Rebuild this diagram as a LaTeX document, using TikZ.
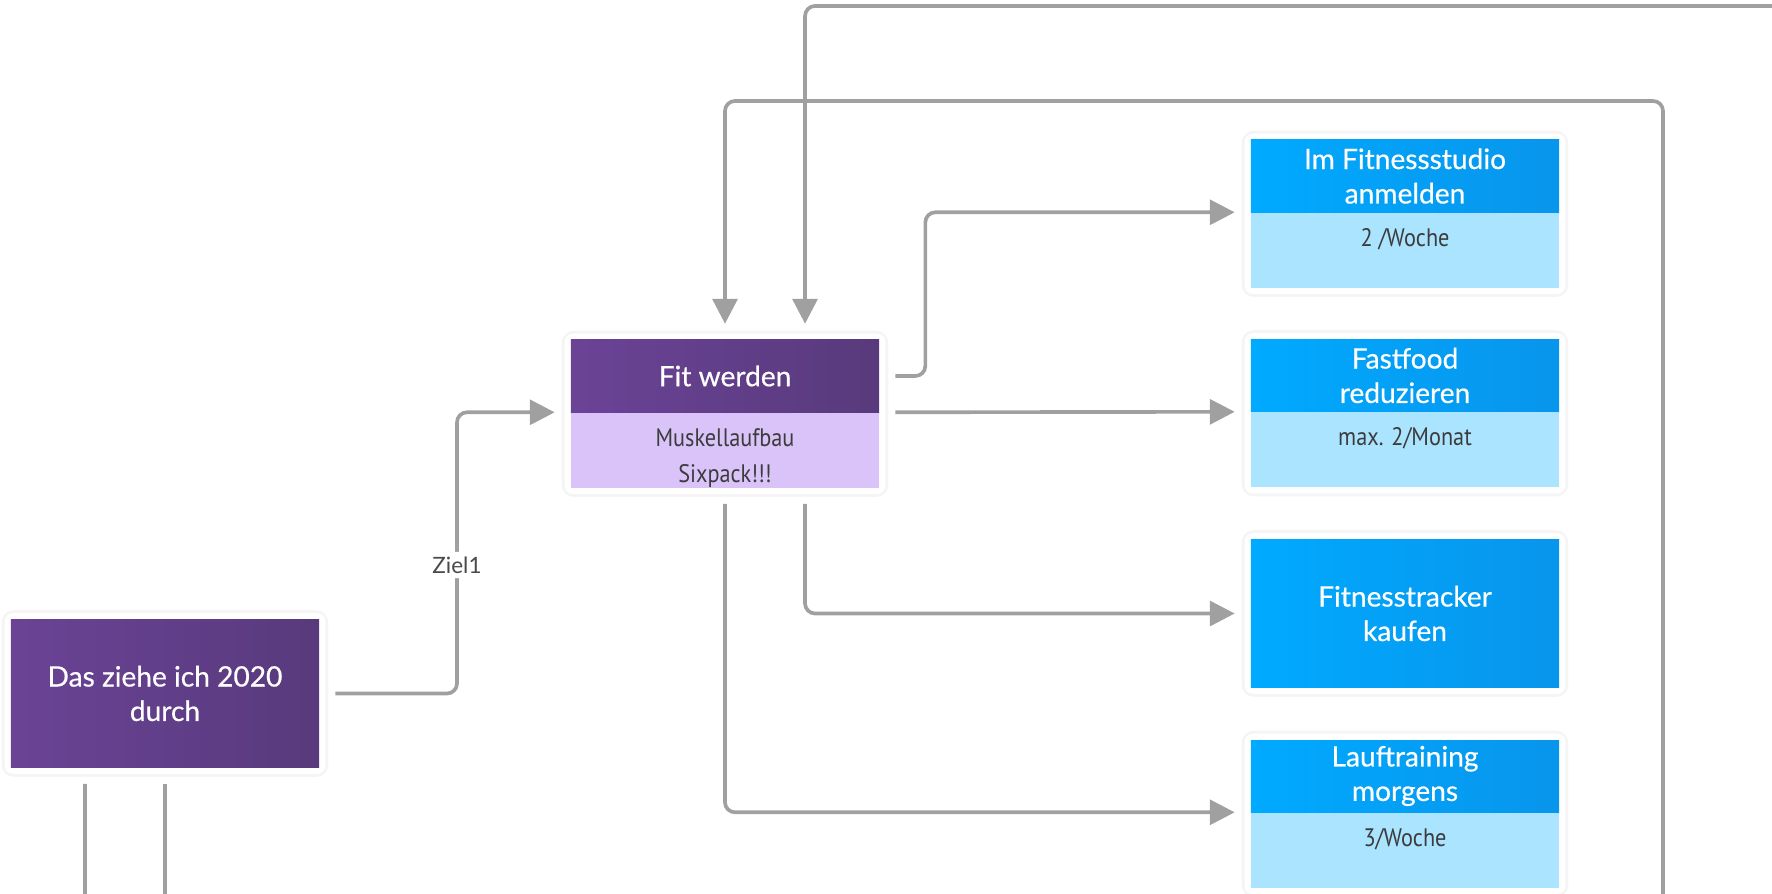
\documentclass[tikz,border=0pt]{standalone}
\usepackage{fontspec}
\setmainfont{Lato}
\newfontfamily\headfont[FakeBold=0.5]{Lato}
\newfontfamily\condfont[FakeStretch=0.88]{PT Sans}
\usepackage{tikz}
\usetikzlibrary{positioning}
\usetikzlibrary{arrows.meta}
\usetikzlibrary{backgrounds}
\usepackage{xcolor}

\definecolor{purpleL}{HTML}{6B4396}
\definecolor{purpleR}{HTML}{583A7C}
\definecolor{purpleSub}{HTML}{D9C3F8}
\definecolor{blueL}{HTML}{00AAFF}
\definecolor{blueR}{HTML}{0895EC}
\definecolor{blueSub}{HTML}{ABE4FF}
\definecolor{linkgray}{HTML}{A0A0A0}
\definecolor{subtext}{HTML}{3C3C3C}
\definecolor{labeltext}{HTML}{4A4A4A}

\tikzset{
  head/.style={minimum width=7.7cm, minimum height=1.8cm, inner sep=0pt, align=center,
    text=white, font=\headfont\fontsize{20}{24.5}\selectfont},
  phead/.style={head, left color=purpleL, right color=purpleR},
  bhead/.style={head, left color=blueL, right color=blueR},
  tallbox/.style={minimum height=3.7cm},
  subbox/.style={below=0pt of #1, inner sep=0pt, text=subtext,
    font=\condfont\fontsize{18}{25.5}\selectfont},
  psub/.style={subbox=#1, fill=purpleSub},
  bsub/.style={subbox=#1, fill=blueSub},
  wire/.style={draw=linkgray, line width=2.6pt, rounded corners=0.25cm},
  link/.style={wire, -{Triangle[length=0.62cm,width=0.62cm]}, shorten >=0.4cm, shorten <=0.4cm},
  lbl/.style={fill=white, inner sep=0.12cm, text=labeltext, font=\fontsize{16}{18}\selectfont}
}

% text of the lower part, first baseline at a fixed depth
\newcommand{\subtxt}[1]{\parbox[c][1.875cm][t]{7.7cm}{\centering\rule{0pt}{24pt}#1\par}}
% white card with a faint rim behind a box
\newcommand{\cardback}[2]{%
  \fill[black!4, rounded corners=0.3cm] ([shift={(-9,-9)}]#1.north west) rectangle ([shift={(9,9)}]#2.south east);
  \fill[white, rounded corners=0.2cm] ([shift={(-6,-6)}]#1.north west) rectangle ([shift={(6,6)}]#2.south east);}

\begin{document}
\begin{tikzpicture}[x=0.025cm, y=-0.025cm]
  \useasboundingbox (0,0) rectangle (1772,893);

  % main goal
  \node[phead, tallbox] (das) at (165,693.5) {Das ziehe ich 2020\\durch};

  % sub goal
  \node[phead] (fit) at (725,376) {Fit werden};
  \node[psub=fit] (fitsub) {\subtxt{Muskellaufbau\\Sixpack!!!}};

  % steps
  \node[bhead] (studio) at (1405,176) {Im Fitnessstudio\\anmelden};
  \node[bsub=studio] (studiosub) {\subtxt{2 /Woche}};
  \node[bhead] (fastfood) at (1405,375.5) {Fastfood\\reduzieren};
  \node[bsub=fastfood] (fastfoodsub) {\subtxt{max. 2/Monat}};
  \node[bhead, tallbox] (tracker) at (1405,613.5) {Fitnesstracker\\kaufen};
  \node[bhead] (lauf) at (1405,776) {Lauftraining\\morgens};
  \node[bsub=lauf] (laufsub) {\subtxt{3/Woche}};

  \begin{scope}[on background layer]
    \cardback{das}{das}
    \cardback{fit}{fitsub}
    \cardback{studio}{studiosub}
    \cardback{fastfood}{fastfoodsub}
    \cardback{tracker}{tracker}
    \cardback{lauf}{laufsub}
  \end{scope}

  % outside ends
  \coordinate (topin) at (1800,6);
  \coordinate (rightin) at (1663,920);
  \coordinate (loopcorner) at (1663,101);
  \coordinate (dasout1) at (165,920);
  \coordinate (dasout2) at (85,920);
  \coordinate (ziel) at (457,565);

  \draw[link] (das.east) -| (ziel) node[lbl] {Ziel1} |- (fit.south west);
  \draw[link] (fit.east) -- ++(46,0) |- (studio.south west);
  \draw[link] (fit.south east) -- (fastfood.south west);
  \draw[link] ([xshift=2cm]fitsub.south) |- (tracker.west);
  \draw[link] (fitsub.south) |- (lauf.south west);

  \draw[link, shorten <=0pt] (topin) -| ([xshift=2cm]fit.north);
  \draw[link, shorten <=0pt] (rightin) -- (loopcorner) -| (fit.north);

  \draw[wire, shorten <=0.4cm] (das.south) -- (dasout1);
  \draw[wire, shorten <=0.4cm] ([xshift=-2cm]das.south) -- (dasout2);
\end{tikzpicture}
\end{document}
